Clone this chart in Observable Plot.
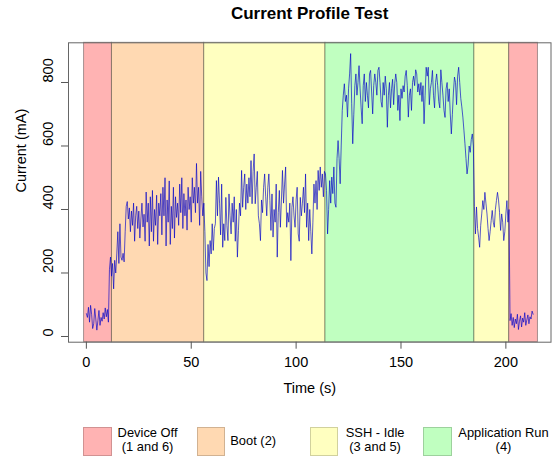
<!DOCTYPE html>
<html>
<head>
<meta charset="utf-8">
<script src="https://cdn.jsdelivr.net/npm/d3@7"></script>
<script src="https://cdn.jsdelivr.net/npm/@observablehq/plot@0.6"></script>
<style>
  html, body { margin: 0; padding: 0; background: #fff; }
  body { width: 554px; height: 459px; overflow: hidden; font-family: "Liberation Sans", Arial, sans-serif; }
  #title { position: relative; width: 554px; height: 30px; }
  #title span { position: absolute; left: 159.6px; width: 300px; top: 5px; text-align: center; font-weight: bold; font-size: 17px; line-height: 17px; color: #000; }
  #chart { width: 554px; height: 380px; }
  #legend { position: relative; width: 554px; height: 49px; }
  .sw { position: absolute; top: 16.7px; width: 28.3px; height: 29.3px; box-sizing: border-box; border: 1px solid rgba(0,0,0,0.18); }
  .lt { position: absolute; width: 130px; text-align: center; font-size: 12.9px; line-height: 14px; color: #000; white-space: nowrap; }
</style>
</head>
<body>
<div id="title"><span>Current Profile Test</span></div>
<div id="chart"></div>
<div id="legend"></div>
<script>
// ---- data (current in mA, sampled every 0.5 s) ----
const sampleStep = 0.5;
const off1 = [72, 60, 92, 45, 98, 70, 25, 40, 88, 55, 20, 50, 82, 35, 60, 48, 75, 55, 90, 62, 85, 45, 210, 250, 190];
const boot = [230, 150, 240, 200, 260, 330, 230, 355, 250,
  240, 262, 235, 330, 410, 425,
  370, 405, 330, 395, 350, 420, 300, 380, 410, 340, 395, 310, 370, 420, 345, 385,
  300, 455, 360, 420, 285, 440, 330, 460, 300, 400, 350, 445, 290, 420, 380, 450,
  320, 470, 380, 500, 285, 430, 360, 490, 290, 410, 340, 470, 310, 440, 375, 420,
  350, 480, 390, 500, 340, 450, 380, 430, 335, 470, 400, 440, 360, 500, 420, 470,
  390, 545, 420, 470, 350, 520, 440, 380, 420];
const idle1 = [330, 200, 176, 290, 220, 302, 260, 355, 271, 340,
  355, 491, 380, 502, 420, 320, 480, 281, 355, 302,
  438, 350, 302, 449, 380, 323, 420, 360, 440, 300,
  400, 250, 333, 420, 380, 523, 407, 470, 512, 400,
  480, 420, 500, 440, 554, 418, 520, 575, 418, 470,
  520, 380, 355, 302, 430, 390, 470, 512, 440, 380,
  470, 512, 428, 334, 449, 313, 400, 360, 480, 250,
  390, 460, 344, 430, 523, 420, 480, 534, 344, 390,
  360, 420, 239, 407, 440, 380, 344, 430, 470, 323,
  300, 438, 380, 420, 470, 390, 512, 344, 420, 302,
  400, 330, 260, 360, 480, 420, 491, 400, 523, 460,
  534, 470, 512, 440, 520, 512];
const app = [460, 323, 400, 491, 420, 502, 450, 534, 420, 407,
  560, 617, 560, 481, 600, 712, 760, 796, 740, 760,
  691, 780, 827, 891, 733, 607, 700, 790, 827, 760,
  800, 853, 780, 720, 670, 790, 827, 740, 800, 760,
  720, 827, 838, 770, 701, 790, 827, 800, 760, 838,
  848, 800, 740, 722, 800, 760, 820, 780, 659, 760,
  800, 720, 780, 810, 730, 796, 827, 800, 712, 760,
  680, 780, 750, 790, 770, 820, 838, 790, 691, 760,
  780, 712, 800, 820, 790, 840, 827, 770, 796, 760,
  800, 740, 790, 670, 760, 848, 820, 848, 730, 780,
  800, 838, 760, 720, 800, 827, 790, 740, 720, 840,
  800, 760, 712, 690, 780, 800, 740, 780, 701, 638,
  700, 770, 817, 800, 730, 820, 848, 800, 750, 723,
  691, 650, 607, 560, 512, 540, 600, 580, 620, 638,
  600, 410];
const idle2 = [323, 408, 340, 313, 281, 350, 386, 428, 400, 454,
  420, 386, 340, 302, 330, 365, 397, 360, 344, 400,
  428, 454, 430, 390, 334, 386, 360, 302, 330, 386,
  428, 360, 400];
const off2 = [50, 72, 35, 60, 28, 55, 40, 70, 22, 48, 65, 30, 58, 45, 75, 35, 52, 68, 40, 62, 55, 80, 70];

// ---- phases (shaded regions) ----
const phaseStart = [-1.1, 12.2, 56.2, 114.0, 185.0, 201.6];
const phaseEnd   = [12.2, 56.2, 114.0, 185.0, 201.6, 215.3];
const phaseKind  = ["Device Off", "Boot", "SSH - Idle", "Application Run", "SSH - Idle", "Device Off"];

// ---- legend ----
const legendLabels = [["Device Off", "(1 and 6)"], ["Boot (2)"], ["SSH - Idle", "(3 and 5)"], ["Application Run", "(4)"]];
const legendKinds = ["Device Off", "Boot", "SSH - Idle", "Application Run"];
const kindColors = ["#ffb3b3", "#ffd9b2", "#ffffc0", "#c0ffc0"];

// ---- axes ----
const xTicks = [0, 50, 100, 150, 200];
const yTicks = [0, 200, 400, 600, 800];

const currentMA = [...off1, ...boot, ...idle1, ...app, ...idle2, ...off2];
const series = currentMA.map((v, i) => ({t: i * sampleStep, mA: v}));
const phases = phaseStart.map((s, i) => ({x1: s, x2: phaseEnd[i], kind: phaseKind[i]}));
const colorOf = k => kindColors[legendKinds.indexOf(k)];

const font = "Liberation Sans, Arial, sans-serif";
const chart = Plot.plot({
  width: 554,
  height: 380,
  marginLeft: 68,
  marginRight: 3.5,
  marginTop: 12.3,
  marginBottom: 68.3,
  style: {fontFamily: font, fontSize: "14.5px", color: "#000", background: "white"},
  x: {domain: [-8.52, 221.52]},
  y: {domain: [-18, 925]},
  marks: [
    Plot.rect(phases, {x1: "x1", x2: "x2", fill: d => colorOf(d.kind), stroke: "#000", strokeOpacity: 0.35, strokeWidth: 1}),
    Plot.line(series, {x: "t", y: "mA", stroke: "rgb(0,0,200)", strokeOpacity: 0.65, strokeWidth: 1}),
    Plot.frame({stroke: "#666", strokeWidth: 1}),
    Plot.axisX({ticks: xTicks, tickSize: 7, tickPadding: 8, label: null, fontSize: 14.5, stroke: "#555"}),
    Plot.axisY({ticks: yTicks, tickSize: 7, tickFormat: () => "", label: null, stroke: "#555"}),
    Plot.text(yTicks, {y: d => d, text: d => String(d), frameAnchor: "left", dx: -20.3, rotate: -90, fontSize: 14.5}),
    Plot.text(["Time (s)"], {text: d => d, frameAnchor: "bottom", dy: 50.6, fontSize: 14.5}),
    Plot.text(["Current (mA)"], {text: d => d, frameAnchor: "left", dx: -47.6, rotate: -90, fontSize: 14.5})
  ]
});
document.getElementById("chart").appendChild(chart);

// legend
const legend = document.getElementById("legend");
const swLeft = [83.4, 196.5, 310.2, 423.3];
const txtCenter = [147.6, 253.2, 375.1, 503.5];
legendKinds.forEach((k, i) => {
  const sw = document.createElement("div");
  sw.className = "sw";
  sw.style.left = swLeft[i] + "px";
  sw.style.background = kindColors[i];
  legend.appendChild(sw);
  const lines = legendLabels[i];
  const t = document.createElement("div");
  t.className = "lt";
  t.style.left = (txtCenter[i] - 65) + "px";
  t.style.top = (lines.length === 2 ? 16.4 : 23.8) + "px";
  t.innerHTML = lines.join("<br>");
  legend.appendChild(t);
});
</script>
</body>
</html>
